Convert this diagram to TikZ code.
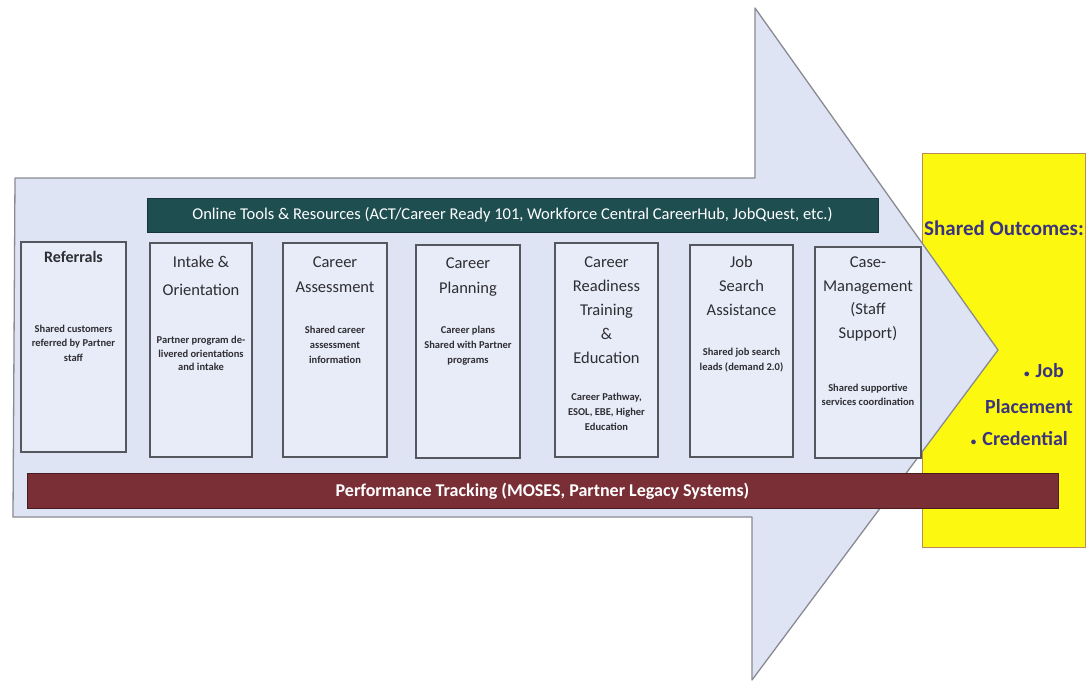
\documentclass[tikz,border=0pt]{standalone}
\usepackage{fontspec}
\setmainfont{Carlito}
\usetikzlibrary{calc}
\definecolor{arrowfill}{HTML}{DFE4F4}
\definecolor{arrowline}{HTML}{8A8A92}
\definecolor{boxfill}{HTML}{E8ECF8}
\definecolor{boxline}{HTML}{55575E}
\definecolor{tealbar}{HTML}{1F4E51}
\definecolor{maroonbar}{HTML}{7A2F36}
\definecolor{outyellow}{HTML}{FCF80F}
\definecolor{outline}{HTML}{B98A5A}
\definecolor{outtext}{HTML}{3A3480}
\definecolor{bodytext}{HTML}{2E2E33}
\tikzset{
  stepbox/.style={draw=boxline, line width=1.1pt, fill=boxfill, inner sep=0pt},
  % multi-line labels are placed by the baseline of their last line
  steptitle/.style={anchor=base, align=center, text=bodytext, inner sep=0pt,
    font=\fontsize{16.5}{24}\selectfont},
  stepnote/.style={anchor=base, align=center, text=bodytext, inner sep=0pt,
    font=\fontsize{10.5}{14.5}\selectfont\bfseries},
  barlabel/.style={text=white, inner sep=0pt},
  outlabel/.style={text=outtext, inner sep=0pt, font=\fontsize{20}{24}\selectfont\bfseries}
}
\newcommand{\outbullet}{{\fontsize{11}{11}\selectfont •}\hspace{6pt}}
\begin{document}
\begin{tikzpicture}[x=1pt,y=-1pt]
\useasboundingbox (0,0) rectangle (1087,683);
\fill[white] (0,0) rectangle (1087,683);

% outcome panel behind the arrow head
\node[draw=outline, line width=0.8pt, fill=outyellow, minimum width=163pt,
  minimum height=394pt, inner sep=0pt] (outcomes) at (1004,350) {};

% the big process arrow
\draw[draw=arrowline, line width=1.3pt, fill=arrowfill, line join=round]
  (15,178) -- (755,178) -- (755,8) -- (998,350) -- (752,680) -- (752,517)
  -- (13,517) -- cycle;

% tools bar across the top
\node[fill=tealbar, draw=tealbar!70!black, line width=0.8pt, minimum width=731pt,
  minimum height=34pt, inner sep=0pt, barlabel,
  font=\fontsize{16.5}{18}\selectfont] (tools) at (512.5,215)
  {Online Tools \& Resources (ACT/Career Ready 101, Workforce Central CareerHub, JobQuest, etc.)};

% process steps
\node[stepbox, minimum width=105pt, minimum height=210pt] (referrals) at (73.5,347) {};
\node[stepbox, minimum width=102pt, minimum height=214pt] (intake) at (201,350) {};
\node[stepbox, minimum width=104pt, minimum height=214pt] (assess) at (335,350) {};
\node[stepbox, minimum width=104pt, minimum height=213pt] (plan) at (468,351.5) {};
\node[stepbox, minimum width=103pt, minimum height=214pt] (ready) at (606.5,350) {};
\node[stepbox, minimum width=103pt, minimum height=212pt] (search) at (741.5,351) {};
\node[stepbox, minimum width=106pt, minimum height=211pt] (casemgmt) at (868,352.5) {};

\node[steptitle, font=\fontsize{16}{24}\selectfont\bfseries] at (73.5,262) {Referrals};
\node[stepnote] at (73.5,361) {Shared customers\\referred by Partner\\staff};

\node[steptitle, font=\fontsize{16.5}{28}\selectfont] at (201,295.5) {Intake \&\\Orientation};
\node[stepnote, font=\fontsize{10.5}{13.5}\selectfont\bfseries] at (201,370.5) {Partner program de-\\livered orientations\\and intake};

\node[steptitle, font=\fontsize{16.5}{25}\selectfont] at (335,292.5) {Career\\Assessment};
\node[stepnote, font=\fontsize{10.5}{15}\selectfont\bfseries] at (335,363.5) {Shared career\\assessment\\information};

\node[steptitle, font=\fontsize{16.5}{25}\selectfont] at (468,293) {Career\\Planning};
\node[stepnote, font=\fontsize{10.5}{15}\selectfont\bfseries] at (468,363.5) {Career plans\\Shared with Partner\\programs};

\node[steptitle] at (606.5,363.5) {Career\\Readiness\\Training\\\&\\Education};
\node[stepnote, font=\fontsize{10.5}{15}\selectfont\bfseries] at (606.5,430.5) {Career Pathway,\\ESOL, EBE, Higher\\Education};

\node[steptitle] at (741.5,315.5) {Job\\Search\\Assistance};
\node[stepnote, font=\fontsize{10.5}{15}\selectfont\bfseries] at (741.5,370.5) {Shared job search\\leads (demand 2.0)};

\node[steptitle, font=\fontsize{16.5}{23.5}\selectfont] at (868,338) {Case-\\Management\\(Staff\\Support)};
\node[stepnote, font=\fontsize{10.5}{14}\selectfont\bfseries] at (868,405.5) {Shared supportive\\services coordination};

% tracking bar along the bottom
\node[fill=maroonbar, draw=maroonbar!60!black, line width=0.8pt, minimum width=1031pt,
  minimum height=35pt, inner sep=0pt, barlabel,
  font=\fontsize{18}{20}\selectfont\bfseries] (tracking) at (542.5,491)
  {Performance Tracking (MOSES, Partner Legacy Systems)};

% outcome labels
\node[outlabel, anchor=base west, font=\fontsize{21}{24}\selectfont\bfseries] at (924,235) {Shared Outcomes:};
\node[outlabel, anchor=base east] at (1064,377) {\outbullet Job};
\node[outlabel, anchor=base east] at (1073,413) {Placement};
\node[outlabel, anchor=base east] at (1068,445) {\outbullet Credential};
\end{tikzpicture}
\end{document}
